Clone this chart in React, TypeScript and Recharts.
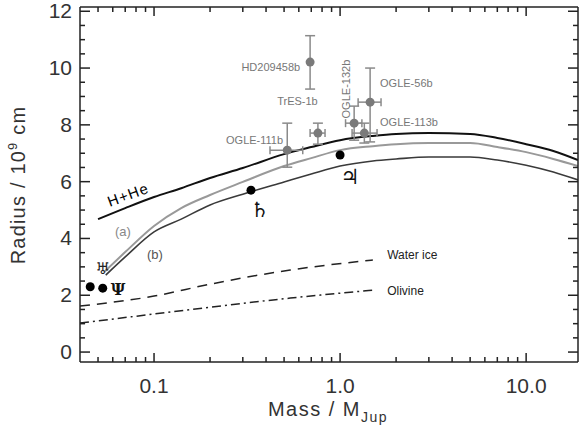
import React from "react";
import { ComposedChart, Line, Scatter, ErrorBar, XAxis, YAxis, Label } from "recharts";

// model curves: mass in M_Jup, radius in 1e9 cm
const hheMass = [0.05, 0.07, 0.1, 0.14, 0.2, 0.3, 0.5, 0.7, 1, 1.5, 2, 3, 5, 7, 10, 14, 19];
const hheRad = [4.68, 5.07, 5.46, 5.77, 6.13, 6.48, 6.97, 7.22, 7.46, 7.61, 7.68, 7.71, 7.68, 7.54, 7.32, 7.08, 6.76];

const aMass = [0.054, 0.07, 0.1, 0.14, 0.2, 0.3, 0.5, 0.7, 1, 1.5, 2, 3, 5, 7, 10, 14, 19];
const aRad = [2.82, 3.52, 4.44, 5.07, 5.53, 5.99, 6.55, 6.83, 7.11, 7.25, 7.32, 7.36, 7.36, 7.22, 7.04, 6.8, 6.55];

const bMass = [0.055, 0.07, 0.1, 0.14, 0.2, 0.3, 0.5, 0.7, 1, 1.5, 2, 3, 5, 7, 10, 14, 19];
const bRad = [2.71, 3.35, 4.23, 4.68, 5.18, 5.56, 5.99, 6.27, 6.55, 6.73, 6.8, 6.87, 6.87, 6.76, 6.58, 6.34, 6.06];

const iceMass = [0.04, 0.1, 0.2, 0.54, 1.5];
const iceRad = [1.62, 1.97, 2.39, 2.89, 3.24];

const olivMass = [0.04, 0.1, 0.2, 0.54, 1.5];
const olivRad = [1.02, 1.34, 1.58, 1.9, 2.18];

// solar system planets: Uranus, Neptune, Saturn, Jupiter
const planetMass = [0.0454, 0.053, 0.332, 1.0];
const planetRad = [2.3, 2.25, 5.7, 6.94];

// transiting planets with error bars
const exoNames = ["HD209458b", "TrES-1b", "OGLE-111b", "OGLE-132b", "OGLE-56b", "OGLE-113b"];
const exoMass = [0.69, 0.76, 0.52, 1.19, 1.45, 1.35];
const exoRad = [10.21, 7.71, 7.11, 8.06, 8.8, 7.71];
const exoErrR = [[0.95, 0.93], [0.39, 0.35], [0.6, 0.95], [0.6, 0.6], [1.4, 1.2], [0.35, 0.35]];
const exoErrM = [[0, 0], [0.07, 0.07], [0.1, 0.11], [0.12, 0.12], [0.2, 0.21], [0.19, 0.23]];

// text annotations
const noteText = ["HD209458b", "TrES-1b", "OGLE-111b", "OGLE-132b", "OGLE-56b", "OGLE-113b", "H+He", "(a)", "(b)", "♄", "♃", "♅", "Ψ", "Water ice", "Olivine"];
const noteMass = [0.61, 0.59, 0.494, 1.077, 1.64, 1.64, 0.0725, 0.068, 0.101, 0.371, 1.13, 0.053, 0.064, 1.79, 1.79];
const noteRad = [10.04, 8.84, 7.46, 9.26, 9.47, 8.1, 5.55, 4.23, 3.42, 5.0, 6.16, 2.93, 2.2, 3.42, 2.15];

const xTicks = [0.05, 0.06, 0.07, 0.08, 0.09, 0.1, 0.2, 0.3, 0.4, 0.5, 0.6, 0.7, 0.8, 0.9, 1, 2, 3, 4, 5, 6, 7, 8, 9, 10];
const xLabels: Record<string, string> = { "0.1": "0.1", "1": "1.0", "10": "10.0" };
const yTicks = Array.from({ length: 25 }, (_, i) => i * 0.5);

const pairs = (ms: number[], rs: number[]) => ms.map((m, i) => ({ m, r: rs[i] }));

const hhe = pairs(hheMass, hheRad);
const curveA = pairs(aMass, aRad);
const curveB = pairs(bMass, bRad);
const ice = pairs(iceMass, iceRad);
const olivine = pairs(olivMass, olivRad);
const planets = pairs(planetMass, planetRad);
const exo = exoNames.map((n, i) => ({ name: n, m: exoMass[i], r: exoRad[i], er: exoErrR[i], em: exoErrM[i] }));
const notes = noteText.map((t, i) => ({ t, m: noteMass[i], r: noteRad[i] }));

const FONT = "'Liberation Sans', Arial, sans-serif";
const INK = "#222";
const isMajorX = (v: number) => v === 0.1 || v === 1 || v === 10;
const isMajorY = (v: number) => v % 2 === 0;

// ticks point inwards on all four sides of the frame
function BottomTick(p: any) {
  const v = p.payload.value;
  const len = isMajorX(v) ? 9 : 5;
  const lab = xLabels[String(v)];
  return (
    <g>
      <path d={`M${p.x},${p.y}V${p.y - len}`} stroke={INK} strokeWidth={1.5} fill="none" />
      {lab && (
        <text x={p.x} y={p.y + 31} textAnchor="middle" fontSize={21} fill="#333" fontFamily={FONT}>{lab}</text>
      )}
    </g>
  );
}

function TopTick(p: any) {
  const len = isMajorX(p.payload.value) ? 9 : 5;
  return <path d={`M${p.x},${p.y}V${p.y + len}`} stroke={INK} strokeWidth={1.5} fill="none" />;
}

function LeftTick(p: any) {
  const v = p.payload.value;
  const len = isMajorY(v) ? 10 : 5;
  return (
    <g>
      <path d={`M${p.x},${p.y}H${p.x + len}`} stroke={INK} strokeWidth={1.5} fill="none" />
      {isMajorY(v) && (
        <text x={p.x - 8} y={p.y + 7} textAnchor="end" fontSize={21} fill="#333" fontFamily={FONT}>{v}</text>
      )}
    </g>
  );
}

function RightTick(p: any) {
  const len = isMajorY(p.payload.value) ? 10 : 5;
  return <path d={`M${p.x},${p.y}H${p.x - len}`} stroke={INK} strokeWidth={1.5} fill="none" />;
}

function NoteShape(p: any) {
  const t = p.payload.t;
  const { cx, cy } = p;
  if (t === "H+He")
    return <text x={cx} y={cy} textAnchor="middle" dominantBaseline="central" fontSize={15} letterSpacing={1} fontFamily={FONT} transform={`rotate(-20 ${cx} ${cy})`}>{t}</text>;
  if (t === "OGLE-132b")
    return <text x={cx} y={cy} textAnchor="middle" dominantBaseline="central" fontSize={11} fill="#777" fontFamily={FONT} transform={`rotate(-90 ${cx} ${cy})`}>{t}</text>;
  if (t === "HD209458b" || t === "OGLE-111b")
    return <text x={cx} y={cy} textAnchor="end" dominantBaseline="central" fontSize={11} fill="#777" fontFamily={FONT}>{t}</text>;
  if (t === "TrES-1b")
    return <text x={cx} y={cy} textAnchor="middle" dominantBaseline="central" fontSize={11} fill="#777" fontFamily={FONT}>{t}</text>;
  if (t.startsWith("OGLE"))
    return <text x={cx} y={cy} dominantBaseline="central" fontSize={11} fill="#777" fontFamily={FONT}>{t}</text>;
  if (t === "(a)")
    return <text x={cx} y={cy} textAnchor="middle" dominantBaseline="central" fontSize={13} fill="#888" fontFamily={FONT}>{t}</text>;
  if (t === "(b)")
    return <text x={cx} y={cy} textAnchor="middle" dominantBaseline="central" fontSize={13} fill="#555" fontFamily={FONT}>{t}</text>;
  if (t === "Water ice" || t === "Olivine")
    return <text x={cx} y={cy} dominantBaseline="central" fontSize={12} fill="#222" fontFamily={FONT}>{t}</text>;
  if (t === "♅")
    return <text x={cx} y={cy} textAnchor="middle" dominantBaseline="central" fontSize={16} fill="#222" fontFamily="'DejaVu Sans'">{t}</text>;
  if (t === "Ψ")
    return <text x={cx} y={cy} textAnchor="middle" dominantBaseline="central" fontSize={16} fontWeight={700} fill="#111" fontFamily="'DejaVu Serif'">{t}</text>;
  return <text x={cx} y={cy} textAnchor="middle" dominantBaseline="central" fontSize={21} fontWeight={700} fill="#111" fontFamily="'DejaVu Sans'">{t}</text>;
}

export default function App() {
  return (
    <div style={{ position: "fixed", left: 0, top: 0, width: 580, height: 433, background: "white" }}>
      <ComposedChart width={580} height={433} margin={{ top: 6, right: 1, left: 0, bottom: 0 }}>
        <XAxis
          dataKey="m" type="number" scale="log" domain={[0.04, 19]} allowDataOverflow
          ticks={xTicks} interval={0} height={71} tickSize={0} tickMargin={0}
          axisLine={{ stroke: INK, strokeWidth: 1.5 }} tickLine={false} tick={(p: any) => <BottomTick {...p} />}
        >
          <Label content={() => (
            <text x={328} y={416} textAnchor="middle" fontSize={20} letterSpacing={1.5} fill="#333" fontFamily={FONT}>
              Mass / M<tspan fontSize={14} dy={6}>Jup</tspan>
            </text>
          )} />
        </XAxis>
        <XAxis
          xAxisId="top" orientation="top" dataKey="m" type="number" scale="log" domain={[0.04, 19]} allowDataOverflow
          ticks={xTicks} interval={0} height={1} tickSize={0} tickMargin={0}
          axisLine={{ stroke: INK, strokeWidth: 1.5 }} tickLine={false} tick={(p: any) => <TopTick {...p} />}
        />
        <YAxis
          type="number" domain={[-0.35, 12.15]} allowDataOverflow ticks={yTicks} interval={0}
          width={80} tickSize={0} tickMargin={0}
          axisLine={{ stroke: INK, strokeWidth: 1.5 }} tickLine={false} tick={(p: any) => <LeftTick {...p} />}
        >
          <Label content={() => (
            <text x={25} y={185} textAnchor="middle" fontSize={20} letterSpacing={1.2} fill="#333" fontFamily={FONT} transform="rotate(-90 25 185)">
              Radius / 10<tspan fontSize={13} dy={-8}>9</tspan><tspan dy={8}> cm</tspan>
            </text>
          )} />
        </YAxis>
        <YAxis
          yAxisId="right" orientation="right" type="number" domain={[-0.35, 12.15]} allowDataOverflow ticks={yTicks} interval={0}
          width={1} tickSize={0} tickMargin={0}
          axisLine={{ stroke: INK, strokeWidth: 1.5 }} tickLine={false} tick={(p: any) => <RightTick {...p} />}
        />

        {/* invisible copy that keeps the top and right frame axes active */}
        <Line data={hhe} dataKey="r" xAxisId="top" yAxisId="right" stroke="none" dot={false} legendType="none" isAnimationActive={false} />

        <Line data={ice} dataKey="r" type="monotone" stroke="#222" strokeWidth={1.5} strokeDasharray="10 7" dot={false} isAnimationActive={false} />
        <Line data={olivine} dataKey="r" type="monotone" stroke="#222" strokeWidth={1.5} strokeDasharray="9 4 2 4" dot={false} isAnimationActive={false} />
        <Line data={curveB} dataKey="r" type="monotone" stroke="#3a3a3a" strokeWidth={1.6} dot={false} isAnimationActive={false} />
        <Line data={curveA} dataKey="r" type="monotone" stroke="#999" strokeWidth={2} dot={false} isAnimationActive={false} />
        <Line data={hhe} dataKey="r" type="monotone" stroke="#111" strokeWidth={2} dot={false} isAnimationActive={false} />

        <Scatter data={exo} dataKey="r" isAnimationActive={false}
          shape={(p: any) => <circle cx={p.cx} cy={p.cy} r={4.5} fill="#7a7a7a" />}>
          <ErrorBar dataKey="er" direction="y" stroke="#8a8a8a" strokeWidth={1.5} width={5} />
          <ErrorBar dataKey="em" direction="x" stroke="#8a8a8a" strokeWidth={1.5} width={4} />
        </Scatter>
        <Scatter data={planets} dataKey="r" isAnimationActive={false}
          shape={(p: any) => <circle cx={p.cx} cy={p.cy} r={4.5} fill="#000" />} />
        <Scatter data={notes} dataKey="r" isAnimationActive={false} shape={(p: any) => <NoteShape {...p} />} />
      </ComposedChart>
    </div>
  );
}
